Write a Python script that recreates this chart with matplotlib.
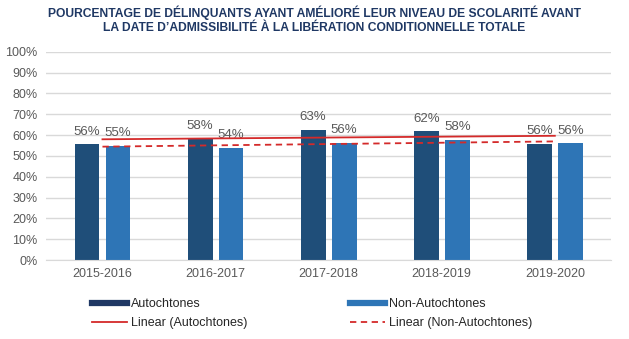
import matplotlib.pyplot as plt
from matplotlib.lines import Line2D
import numpy as np

plt.rcParams['font.family'] = ['Liberation Sans', 'DejaVu Sans']

years = ['2015-2016', '2016-2017', '2017-2018', '2018-2019', '2019-2020']
autochtones = [55.6, 58.2, 62.7, 61.8, 55.9]
non_autochtones = [54.8, 53.9, 56.2, 57.6, 56.1]

dark = '#1F4E79'
light = '#2E75B6'
red = '#D42A2A'
grey = '#595959'

x = np.arange(len(years))
w = 0.22
off = 0.137

fig = plt.figure(figsize=(6.29, 3.39), dpi=100)
ax = fig.add_axes([0.073, 0.233, 0.899, 0.614])

ax.bar(x - off, autochtones, w, color=dark, zorder=2)
ax.bar(x + off, non_autochtones, w, color=light, zorder=2)

for i in range(len(years)):
    ax.text(x[i] - off, autochtones[i] + 3.2, '%d%%' % round(autochtones[i]),
            ha='center', va='bottom', fontsize=9.5, color=grey)
    ax.text(x[i] + off, non_autochtones[i] + 3.2, '%d%%' % round(non_autochtones[i]),
            ha='center', va='bottom', fontsize=9.5, color=grey)

# linear trendlines
p1 = np.polyfit(x, autochtones, 1)
p2 = np.polyfit(x, non_autochtones, 1)
ax.plot(x, np.polyval(p1, x), color=red, lw=1.3, zorder=3)
ax.plot(x, np.polyval(p2, x), color=red, lw=1.3, ls=(0, (3.5, 2.5)), zorder=3)

ax.set_xlim(-0.5, 4.5)
ax.set_ylim(0, 100)
ax.set_yticks(range(0, 101, 10))
ax.set_yticklabels(['%d%%' % v for v in range(0, 101, 10)])
ax.set_xticks(x)
ax.set_xticklabels(years)
ax.tick_params(length=0, labelsize=9, labelcolor=grey, pad=6)
ax.grid(axis='y', color='#D9D9D9', lw=1, zorder=0)
for s in ['top', 'right', 'left']:
    ax.spines[s].set_visible(False)
ax.spines['bottom'].set_color('#D9D9D9')

fig.text(0.5, 0.985, "POURCENTAGE DE DÉLINQUANTS AYANT AMÉLIORÉ LEUR NIVEAU DE SCOLARITÉ AVANT\n"
         "LA DATE D’ADMISSIBILITÉ À LA LIBÉRATION CONDITIONNELLE TOTALE",
         ha='center', va='top', fontsize=8.7, fontweight='bold', color='#1F3864',
         linespacing=1.3)

handles = [Line2D([], [], color='#1F3864', lw=4.5),
           Line2D([], [], color=red, lw=1.3),
           Line2D([], [], color=light, lw=4.5),
           Line2D([], [], color=red, lw=1.3, ls=(0, (3.5, 2.5)))]
labels = ['Autochtones', 'Linear (Autochtones)',
          'Non-Autochtones', 'Linear (Non-Autochtones)']
fig.legend(handles, labels, ncol=2, loc='lower left', bbox_to_anchor=(0.128, -0.005),
           frameon=False, fontsize=9, handlelength=2.8, handletextpad=0.35,
           columnspacing=8.2, labelspacing=0.6, labelcolor='#262626')

fig.savefig('out.png', dpi=100)
